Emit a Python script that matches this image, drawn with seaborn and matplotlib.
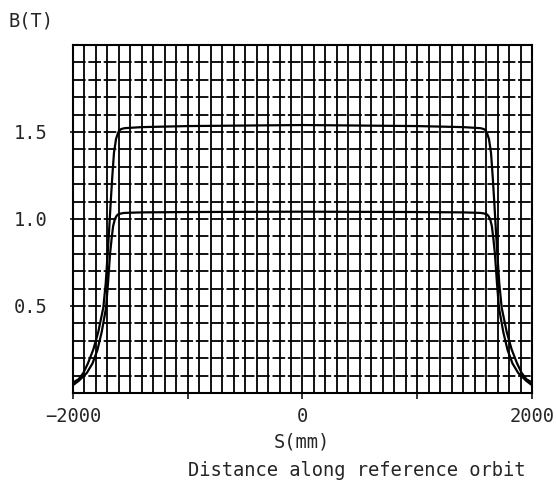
# B-field profile along the reference orbit, two excitation levels

import matplotlib
matplotlib.use("Agg")
import matplotlib.pyplot as plt
from matplotlib.ticker import MultipleLocator, FixedLocator
import seaborn as sns
import pandas as pd

# (mm, tesla)
s_high = [-2000, -1950, -1910, -1870, -1823, -1780, -1736, -1715, -1698, -1685,
          -1672, -1658, -1643, -1625, -1610, -1599, -1580, -1550, -1400, -1000,
          0,
          1000, 1400, 1550, 1580, 1599, 1610, 1625, 1643, 1658, 1672,
          1685, 1698, 1715, 1736, 1780, 1823, 1870, 1910, 1950, 2000]
b_high = [0.06, 0.08, 0.115, 0.17, 0.25, 0.35, 0.49, 0.63, 0.80, 0.94,
          1.09, 1.24, 1.38, 1.46, 1.49, 1.507, 1.517, 1.522, 1.528, 1.534,
          1.54,
          1.534, 1.528, 1.522, 1.517, 1.507, 1.49, 1.46, 1.38, 1.24, 1.09,
          0.94, 0.80, 0.63, 0.49, 0.35, 0.25, 0.17, 0.115, 0.08, 0.06]

s_low = [-2000, -1950, -1880, -1830, -1788, -1750, -1712, -1695, -1677, -1663,
         -1650, -1635, -1620, -1608, -1580, -1550, -1400, -1000,
         0,
         1000, 1400, 1550, 1580, 1608, 1620, 1635, 1650, 1663, 1677,
         1695, 1712, 1750, 1788, 1830, 1880, 1950, 2000]
b_low = [0.045, 0.07, 0.115, 0.17, 0.245, 0.35, 0.49, 0.63, 0.80, 0.89,
         0.96, 1.0, 1.018, 1.026, 1.032, 1.035, 1.038, 1.04,
         1.042,
         1.04, 1.038, 1.035, 1.032, 1.026, 1.018, 1.0, 0.96, 0.89, 0.80,
         0.63, 0.49, 0.35, 0.245, 0.17, 0.115, 0.07, 0.045]

x_ticks = [-2000, -1000, 0, 1000, 2000]
x_labels = ["\u22122000", "", "0", "", "2000"]
y_ticks = [0.5, 1.0, 1.5]
y_labels = ["0.5", "1.0", "1.5"]

df = pd.concat([
    pd.DataFrame({"S": s_high, "B": b_high, "curve": "high"}),
    pd.DataFrame({"S": s_low, "B": b_low, "curve": "low"}),
])

sns.set_style("ticks")
plt.rcParams["font.family"] = ["DejaVu Sans Mono"]

fig = plt.figure(figsize=(5.56, 4.88), dpi=100)
ax = fig.add_axes([0.1313, 0.1947, 0.8255, 0.7131])

sns.lineplot(data=df, x="S", y="B", hue="curve", palette=["black", "black"],
             estimator=None, sort=False, linewidth=1.6, legend=False, ax=ax)

ax.set_xlim(-2000, 2000)
ax.set_ylim(0, 2.0)

# the dense grid
ax.xaxis.set_minor_locator(MultipleLocator(100))
ax.yaxis.set_minor_locator(MultipleLocator(0.1))
ax.grid(which="both", axis="x", color="black", linewidth=1.3, linestyle="-")
ax.grid(which="both", axis="y", color="black", linewidth=1.3,
        linestyle=(0, (7, 1.5)))
ax.set_axisbelow(True)

ax.xaxis.set_major_locator(FixedLocator(x_ticks))
ax.set_xticklabels(x_labels)
ax.yaxis.set_major_locator(FixedLocator(y_ticks))
ax.set_yticklabels(y_labels)
ax.tick_params(axis="x", which="major", direction="out", length=4, width=1.3,
               pad=6, labelsize=13.5)
ax.tick_params(axis="y", which="major", direction="out", length=2.5, width=1.3,
               pad=16, labelsize=13.5)
ax.tick_params(which="minor", length=0)

for sp in ax.spines.values():
    sp.set_visible(True)
    sp.set_linewidth(1.5)
    sp.set_color("black")

ax.set_xlabel("")
ax.set_ylabel("")
fig.text(8 / 556, 1 - 21 / 488, "B(T)", fontsize=13.5, ha="left", va="center")
fig.text(302 / 556, 1 - 442 / 488, "S(mm)", fontsize=13.5, ha="center", va="center")
fig.text(357 / 556, 1 - 470 / 488, "Distance along reference orbit",
         fontsize=13.5, ha="center", va="center")

fig.savefig("out.png", dpi=100, facecolor="white")
